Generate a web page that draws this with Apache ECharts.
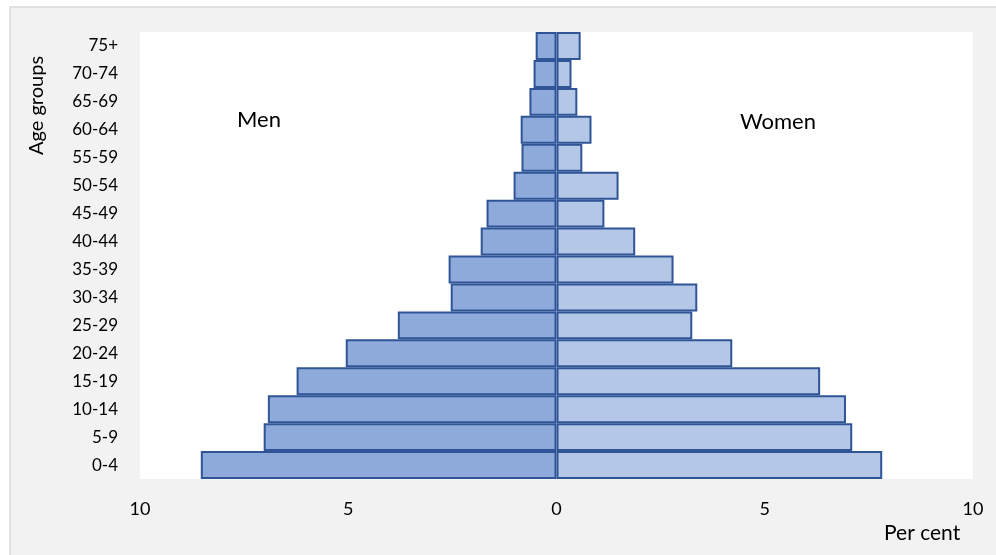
<!DOCTYPE html>
<html>
<head>
<meta charset="utf-8">
<script src="https://cdn.jsdelivr.net/npm/echarts@6/dist/echarts.min.js"></script>
<style>
  html, body { margin: 0; padding: 0; background: #fff; }
  #chart { width: 996px; height: 555px; }
</style>
</head>
<body>
<div id="chart"></div>
<script>
const ageGroups = ['0-4', '5-9', '10-14', '15-19', '20-24', '25-29', '30-34', '35-39',
  '40-44', '45-49', '50-54', '55-59', '60-64', '65-69', '70-74', '75+'];
const men = [8.54, 7.03, 6.93, 6.24, 5.06, 3.81, 2.54, 2.59, 1.82, 1.68, 1.03, 0.84, 0.86, 0.65, 0.55, 0.50];
const women = [7.82, 7.10, 6.95, 6.33, 4.22, 3.26, 3.38, 2.81, 1.89, 1.15, 1.49, 0.62, 0.84, 0.50, 0.36, 0.58];
const xTicks = [-10, -5, 0, 5, 10];

const font = 'Lato, "Noto Sans", sans-serif';

const chart = echarts.init(document.getElementById('chart'));

const getOptions = () => {
  return {
    animation: false,
    backgroundColor: '#fff',
    graphic: [
      {
        type: 'rect', z: -10,
        shape: { x: 10, y: 7, width: 1000, height: 560 },
        style: { fill: '#f2f2f2', stroke: '#d9d9d9', lineWidth: 1.5 }
      },
      {
        type: 'text', left: 237, top: 109,
        style: { text: 'Men', fontSize: 22, fontFamily: font, fill: '#000' }
      },
      {
        type: 'text', left: 740, top: 111,
        style: { text: 'Women', fontSize: 22, fontFamily: font, fill: '#000' }
      },
      {
        type: 'text', left: 884, top: 523,
        style: { text: 'Per cent', fontSize: 21, fontFamily: font, fill: '#000' }
      },
      {
        type: 'text', x: 27, y: 155, rotation: Math.PI / 2,
        style: { text: 'Age groups', fontSize: 20, fontFamily: font, fill: '#000' }
      }
    ],
    grid: {
      left: 140,
      right: 23,
      top: 32,
      bottom: 76,
      backgroundColor: '#fff',
      show: true,
      borderWidth: 0
    },
    xAxis: {
      type: 'value',
      min: -10,
      max: 10,
      interval: 5,
      axisLine: { show: false },
      axisTick: { show: false },
      splitLine: { show: false },
      axisLabel: {
        margin: 21,
        fontSize: 18,
        fontFamily: font,
        color: '#000',
        formatter: v => (xTicks.includes(v) ? String(Math.abs(v)) : '')
      }
    },
    yAxis: {
      type: 'category',
      data: ageGroups,
      axisLine: { show: false },
      axisTick: { show: false },
      axisLabel: {
        margin: 22,
        fontSize: 17,
        fontFamily: font,
        color: '#000'
      }
    },
    series: [
      {
        name: 'Men',
        type: 'bar',
        stack: 'pop',
        barCategoryGap: 0,
        data: men.map(v => -v),
        itemStyle: { color: '#8eaadb', borderColor: '#2f5597', borderWidth: 2 }
      },
      {
        name: 'Women',
        type: 'bar',
        stack: 'pop',
        barCategoryGap: 0,
        data: women,
        itemStyle: { color: '#b4c7e7', borderColor: '#2f5597', borderWidth: 2 }
      }
    ]
  };
};

chart.setOption(getOptions());
</script>
</body>
</html>
